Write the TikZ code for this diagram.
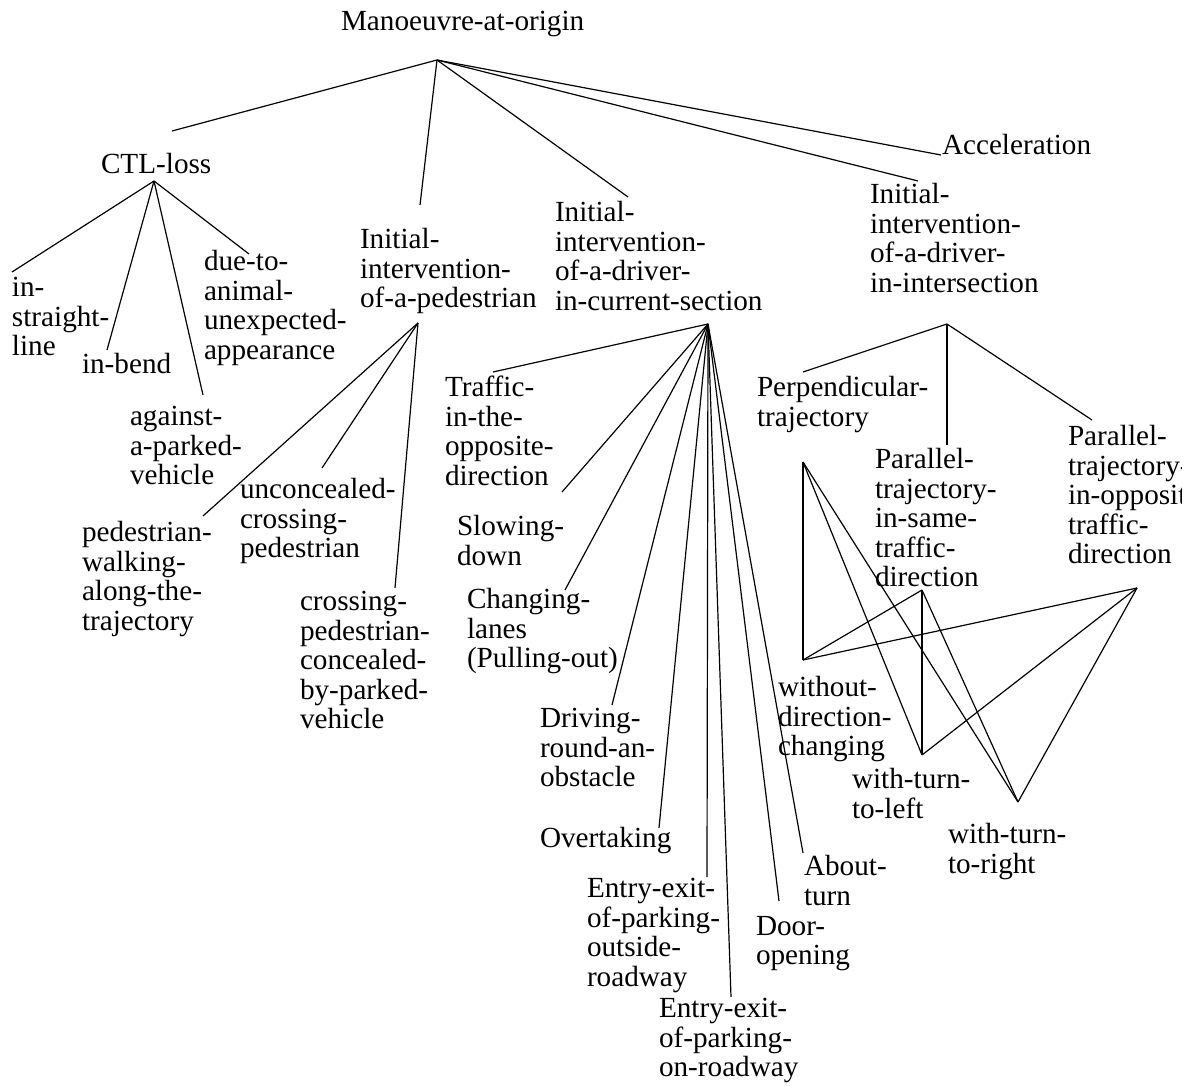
\documentclass[tikz,border=0pt]{standalone}
\usepackage{fontspec}
\setmainfont{Liberation Serif}
\begin{document}
\begin{tikzpicture}[x=1pt,y=-1pt,
  lbl/.style={anchor=north west, inner sep=0pt, outer sep=0pt, align=left,
    font=\fontsize{29.2}{29.5}\selectfont, yshift=20.65pt,
    execute at begin node=\strut},
  edge/.style={line width=1.2pt, black}]
\useasboundingbox (0,0) rectangle (1189,1086);
\clip (0,0) rectangle (1181,1086);

% ---- labels (positioned by first baseline) ----
\node[lbl] (root) at (341,31) {Manoeuvre-at-origin};
\node[lbl] (ctl) at (101,174) {CTL-loss};
\node[lbl] (acc) at (942,155) {Acceleration};
\node[lbl] (ped) at (360,249) {Initial-\\intervention-\\of-a-pedestrian};
\node[lbl] (cur) at (555,222) {Initial-\\intervention-\\of-a-driver-\\in-current-section};
\node[lbl] (int) at (870,204) {Initial-\\intervention-\\of-a-driver-\\in-intersection};

\node[lbl] (straight) at (12,298) {in-\\straight-\\line};
\node[lbl] (bend) at (82,373) {in-bend};
\node[lbl] (dueto) at (204,271) {due-to-\\animal-\\unexpected-\\appearance};
\node[lbl] (against) at (130,427) {against-\\a-parked-\\vehicle};

\node[lbl] (walking) at (82,542) {pedestrian-\\walking-\\along-the-\\trajectory};
\node[lbl] (unconc) at (240,499) {unconcealed-\\crossing-\\pedestrian};
\node[lbl] (concealed) at (300,612) {crossing-\\pedestrian-\\concealed-\\by-parked-\\vehicle};

\node[lbl] (traffic) at (445,397) {Traffic-\\in-the-\\opposite-\\direction};
\node[lbl] (slowing) at (457,536) {Slowing-\\down};
\node[lbl] (changing) at (467,609) {Changing-\\lanes\\(Pulling-out)};
\node[lbl] (driving) at (540,729) {Driving-\\round-an-\\obstacle};
\node[lbl] (overtaking) at (540,847) {Overtaking};
\node[lbl] (entryout) at (587,899) {Entry-exit-\\of-parking-\\outside-\\roadway};
\node[lbl] (entryon) at (659,1019) {Entry-exit-\\of-parking-\\on-roadway};
\node[lbl] (door) at (756,937) {Door-\\opening};
\node[lbl] (about) at (804,876) {About-\\turn};

\node[lbl] (perp) at (757,397) {Perpendicular-\\trajectory};
\node[lbl] (parsame) at (875,469) {Parallel-\\trajectory-\\in-same-\\traffic-\\direction};
\node[lbl] (paropp) at (1068,446) {Parallel-\\trajectory-\\in-opposite-\\traffic-\\direction};
\node[lbl] (without) at (778,697) {without-\\direction-\\changing};
\node[lbl] (left) at (852,789) {with-turn-\\to-left};
\node[lbl] (right) at (948,844) {with-turn-\\to-right};

% ---- tie points of the connectors ----
\coordinate (rootB) at (437,60);
\coordinate (ctlT) at (172,131);   \coordinate (ctlB) at (154,181);
\coordinate (pedT) at (420,205);   \coordinate (pedB) at (418,323);
\coordinate (curT) at (628,197);   \coordinate (curB) at (708,324);
\coordinate (intT) at (918,181);   \coordinate (intB) at (947,324);
\coordinate (accT) at (941,155);

\coordinate (straightT) at (12,272);
\coordinate (bendT) at (107,350);
\coordinate (duetoT) at (249,254);
\coordinate (againstT) at (203,395);

\coordinate (walkingT) at (203,516);
\coordinate (unconcT) at (322,468);
\coordinate (concealedT) at (395,588);

\coordinate (trafficT) at (493,372);
\coordinate (slowingT) at (562,492);
\coordinate (changingT) at (565,590);
\coordinate (drivingT) at (612,705);
\coordinate (overtakingT) at (659,828);
\coordinate (entryoutT) at (707,877);
\coordinate (entryonT) at (731,997);
\coordinate (doorT) at (779,901);
\coordinate (aboutT) at (803,853);

\coordinate (perpT) at (803,372);    \coordinate (perpB) at (803,462);
\coordinate (parsameT) at (947,445); \coordinate (parsameB) at (922,590);
\coordinate (paroppT) at (1092,420); \coordinate (paroppB) at (1137,588);
\coordinate (withoutT) at (803,660);
\coordinate (leftT) at (922,755);
\coordinate (rightT) at (1018,802);

% ---- connectors ----
\foreach \c in {ctlT,pedT,curT,intT,accT} \draw[edge] (rootB) -- (\c);
\foreach \c in {straightT,bendT,duetoT,againstT} \draw[edge] (ctlB) -- (\c);
\foreach \c in {walkingT,unconcT,concealedT} \draw[edge] (pedB) -- (\c);
\foreach \c in {trafficT,slowingT,changingT,drivingT,overtakingT,entryoutT,entryonT,doorT,aboutT}
  \draw[edge] (curB) -- (\c);
\foreach \c in {perpT,parsameT,paroppT} \draw[edge] (intB) -- (\c);
\foreach \p in {perpB,parsameB,paroppB}
  \foreach \c in {withoutT,leftT,rightT} \draw[edge] (\p) -- (\c);
\end{tikzpicture}
\end{document}
